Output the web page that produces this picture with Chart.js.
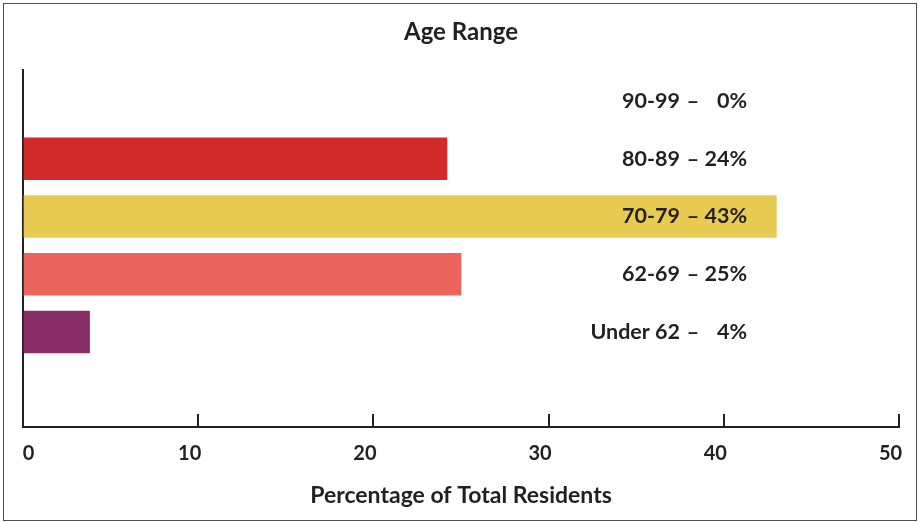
<!DOCTYPE html>
<html>
<head>
<meta charset="utf-8">
<script src="https://cdn.jsdelivr.net/npm/chart.js@4.4.1/dist/chart.umd.min.js"></script>
<style>
  html, body { margin: 0; padding: 0; background: #fff; }
  #frame {
    position: absolute; left: 3px; top: 3px; width: 914px; height: 518px;
    border: 1.5px solid #4d4d4d; box-sizing: border-box;
  }
  #wrap { position: absolute; left: 0; top: 0; width: 919px; height: 522px; }
</style>
</head>
<body>
<div id="frame"></div>
<div id="wrap"><canvas id="chart"></canvas></div>
<script>
const ageGroups = ['90-99', '80-89', '70-79', '62-69', 'Under 62'];
const residentShares = [0, 24.2, 43, 25, 3.8];
const barColors = ['rgba(0,0,0,0)', '#D12B2C', '#E8CB52', '#E9655E', '#8A2E68'];
const xTicks = [0, 10, 20, 30, 40, 50];

const ink = '#231F20';
const fontFamily = 'Lato, "Open Sans", sans-serif';

// "80-89 – 24%" labels drawn inside the plot, lined up on the dash
const rowLabels = {
    id: 'rowLabels',
    afterDatasetsDraw(chart) {
        const { ctx, chartArea, scales: { y } } = chart;
        const right = chartArea.right - 152;
        ctx.save();
        ctx.font = `bold 21.5px ${fontFamily}`;
        ctx.fillStyle = ink;
        ctx.textBaseline = 'middle';
        ageGroups.forEach((name, i) => {
            const py = y.getPixelForValue(i);
            ctx.textAlign = 'right';
            ctx.fillText(name, right - 67, py);
            ctx.textAlign = 'center';
            ctx.fillText('\u2013', right - 54, py);
            ctx.textAlign = 'right';
            ctx.fillText(Math.round(residentShares[i]) + '%', right, py);
        });
        ctx.restore();
    }
};

new Chart(document.getElementById('chart'), {
    type: 'bar',
    data: {
        datasets: [{
            data: residentShares.map((v, i) => ({ x: v, y: i })),
            backgroundColor: barColors,
            borderWidth: 0,
            barThickness: 42
        }]
    },
    options: {
        indexAxis: 'y',
        responsive: true,
        maintainAspectRatio: false,
        animation: false,
        layout: { padding: { left: 23, right: 20, top: 0, bottom: 13 } },
        plugins: {
            legend: { display: false },
            tooltip: { enabled: false },
            title: {
                display: true,
                text: 'Age Range',
                color: ink,
                font: { family: fontFamily, size: 24, weight: 'bold' },
                padding: { top: 17.6, bottom: 23.6 }
            }
        },
        scales: {
            x: {
                type: 'linear',
                position: 'bottom',
                min: 0,
                max: 50,
                afterBuildTicks: scale => { scale.ticks = xTicks.map(v => ({ value: v })); },
                afterFit: scale => {
                    scale.height = 82;
                    scale.paddingLeft = 0;
                    scale.paddingRight = 0;
                },
                border: { color: ink, width: 2 },
                grid: {
                    drawOnChartArea: false,
                    drawTicks: true,
                    tickLength: -13,
                    color: ink,
                    lineWidth: 2
                },
                ticks: {
                    color: ink,
                    font: { family: fontFamily, size: 20, weight: 'bold' },
                    padding: 28,
                    labelOffset: -8.5,
                    callback: v => (v === 0 ? '\u2007\u2007 0' : String(v))
                },
                title: {
                    display: true,
                    text: 'Percentage of Total Residents',
                    color: ink,
                    font: { family: fontFamily, size: 23, weight: 'bold' },
                    padding: { top: 0, bottom: 0 }
                }
            },
            y: {
                type: 'linear',
                reverse: true,
                offset: false,
                min: -0.537,
                max: 5.645,
                border: { color: ink, width: 2 },
                grid: { display: false, drawTicks: false },
                ticks: { display: false }
            }
        }
    },
    plugins: [rowLabels]
});
</script>
</body>
</html>
